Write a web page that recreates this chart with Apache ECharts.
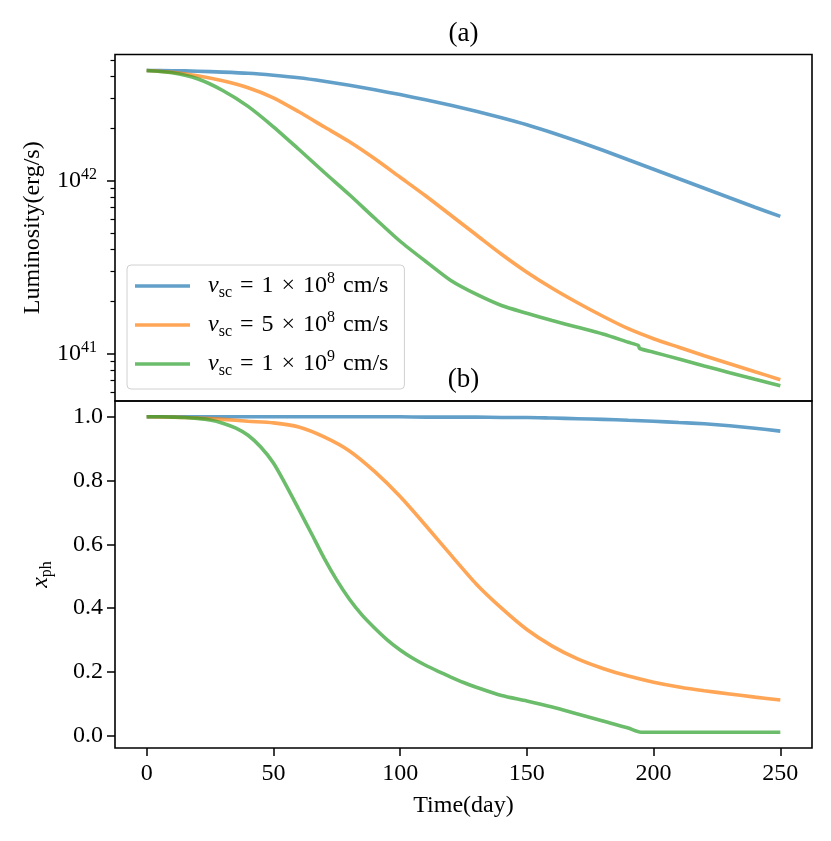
<!DOCTYPE html>
<html><head><meta charset="utf-8">
<script src="https://cdn.jsdelivr.net/npm/echarts@6/dist/echarts.min.js"></script>
<style>html,body{margin:0;padding:0;background:#fff}#c{width:831px;height:841px}</style>
</head><body><div id="c"></div>
<script>
// ---- Data ----
const seriesNames = ['v1e8', 'v5e8', 'v1e9'];
const legendCoef = ['1', '5', '1'];
const legendExp = ['8', '8', '9'];
const colors = ['#1f77b4', '#ff7f0e', '#2ca02c'];

const lumDays = [0,10,20,30,40,50,60,70,80,90,100,110,120,130,140,150,160,170,180,190,200,210,220,230,240,250];
const lumBlue = [4.341e42,4.329e42,4.300e42,4.249e42,4.182e42,4.072e42,3.939e42,3.760e42,3.565e42,3.357e42,3.150e42,2.939e42,2.732e42,2.522e42,2.313e42,2.107e42,1.894e42,1.692e42,1.501e42,1.322e42,1.166e42,1.027e42,0.905e42,0.797e42,0.703e42,0.622e42];
const lumOrange = [4.341e42,4.238e42,4.045e42,3.784e42,3.448e42,3.018e42,2.505e42,2.051e42,1.680e42,1.340e42,1.048e42,0.819e42,0.632e42,0.4875e42,0.376e42,0.296e42,0.2391e42,0.1971e42,0.1647e42,0.1395e42,0.1221e42,0.1090e42,0.0974e42,0.0876e42,0.0787e42,0.0708e42];
const lumGreenDays = [0,10,20,30,40,50,60,70,80,90,100,110,120,130,140,150,160,170,180,190,194,194.5,200,210,220,230,240,250];
const lumGreen = [4.341e42,4.210e42,3.887e42,3.327e42,2.692e42,2.051e42,1.521e42,1.120e42,0.830e42,0.607e42,0.447e42,0.3425e42,0.265e42,0.2208e42,0.1900e42,0.1714e42,0.1555e42,0.1423e42,0.1300e42,0.1165e42,0.1115e42,0.1072e42,0.1020e42,0.0932e42,0.0850e42,0.0777e42,0.0712e42,0.0653e42];

const xphDays = [0,10,20,30,40,50,60,70,80,90,100,110,120,130,140,150,160,170,180,190,200,210,220,230,240,250];
const xphBlue = [1.0,1.0,1.0,1.0,1.0,1.0,1.0,1.0,1.0,1.0,1.0,0.999,0.999,0.999,0.998,0.998,0.996,0.994,0.992,0.989,0.986,0.982,0.978,0.972,0.964,0.955];
const xphOrange = [1.0,0.999,0.996,0.992,0.986,0.981,0.968,0.937,0.893,0.828,0.750,0.660,0.567,0.476,0.400,0.333,0.281,0.241,0.211,0.187,0.168,0.153,0.141,0.131,0.121,0.112];
const xphGreenDays = [0,5,10,15,20,25,30,35,40,45,50,55,60,65,70,75,80,85,90,95,100,105,110,115,120,125,130,140,150,160,170,180,190,195,200,210,220,230,240,250];
const xphGreen = [1.0,1.0,0.999,0.998,0.995,0.990,0.980,0.965,0.942,0.905,0.855,0.785,0.710,0.634,0.557,0.488,0.428,0.378,0.337,0.300,0.269,0.243,0.221,0.202,0.184,0.167,0.152,0.126,0.109,0.090,0.068,0.046,0.024,0.011,0.011,0.011,0.011,0.011,0.011,0.011];

const xTicks = [0,50,100,150,200,250];
const lumMajorTicks = [1e41, 1e42];
const lumMinorTicks = [6e40,7e40,8e40,9e40,2e41,3e41,4e41,5e41,6e41,7e41,8e41,9e41,2e42,3e42,4e42,5e42];
const xphTicks = [0,0.2,0.4,0.6,0.8,1.0];
const panelTitles = ['(a)', '(b)'];

// ---- Chart ----
const FF = '"Liberation Serif", "DejaVu Serif", serif';
const zip = (xs, ys) => xs.map((x, i) => [x, ys[i]]);
const lineSeries = (name, color, data, xi, yi) => ({
  name, type: 'line', xAxisIndex: xi, yAxisIndex: yi, data,
  symbol: 'none', smooth: 0.25, clip: true,
  lineStyle: { color, width: 3.6, opacity: 0.7 },
  itemStyle: { color, opacity: 0.7 }
});

const chart = echarts.init(document.getElementById('c'), null, { renderer: 'canvas' });
const axisTickStyle = { color: '#000', width: 1.5 };
const SP = '\u2004';
chart.setOption({
  animation: false,
  backgroundColor: '#fff',
  title: [
    { text: panelTitles[0], left: 463.5, top: 20, textAlign: 'center', padding: 0,
      textStyle: { fontFamily: FF, fontSize: 27, fontWeight: 'normal', color: '#000' } },
    { text: panelTitles[1], left: 463.5, top: 366, textAlign: 'center', padding: 0,
      textStyle: { fontFamily: FF, fontSize: 27, fontWeight: 'normal', color: '#000' } }
  ],
  grid: [
    { left: 115, top: 54.5, width: 697, height: 346.5, show: true, borderColor: '#000', borderWidth: 1.6, backgroundColor: 'transparent', containLabel: false },
    { left: 115, top: 401, width: 697, height: 347, show: true, borderColor: '#000', borderWidth: 1.6, backgroundColor: 'transparent', containLabel: false }
  ],
  legend: {
    data: seriesNames,
    orient: 'vertical', left: 127, top: 265,
    padding: [6, 16, 10, 8], itemGap: 9, itemWidth: 55, itemHeight: 3.6,
    icon: 'rect',
    borderColor: '#d0d0d0', borderWidth: 1, borderRadius: 4,
    backgroundColor: 'rgba(255,255,255,0.8)',
    formatter: (name) => {
      const i = seriesNames.indexOf(name);
      return `{i|v}{sub|sc}{t|${SP}=${SP}${legendCoef[i]}${SP}×${SP}10}{sup|${legendExp[i]}}{t|${SP}cm/s}`;
    },
    textStyle: {
      fontFamily: FF, fontSize: 24, color: '#000', lineHeight: 30,
      rich: {
        i: { fontFamily: FF, fontSize: 24, fontStyle: 'italic', color: '#000', padding: [0, 0, 0, 13], lineHeight: 30 },
        t: { fontFamily: FF, fontSize: 24, color: '#000', lineHeight: 30 },
        sub: { fontFamily: FF, fontSize: 16, color: '#000', verticalAlign: 'bottom', lineHeight: 18 },
        sup: { fontFamily: FF, fontSize: 16, color: '#000', verticalAlign: 'top', lineHeight: 16 }
      }
    }
  },
  xAxis: [
    { gridIndex: 0, type: 'value', min: -12.5, max: 262.5,
      axisLine: { show: false, onZero: false }, axisTick: { show: false }, axisLabel: { show: false }, splitLine: { show: false } },
    { gridIndex: 1, type: 'value', min: -12.5, max: 262.5,
      axisLine: { show: false, onZero: false },
      axisTick: { show: true, length: 8, lineStyle: axisTickStyle, customValues: xTicks },
      axisLabel: { customValues: xTicks, margin: 14, fontFamily: FF, fontSize: 24, color: '#000' },
      splitLine: { show: false },
      name: 'Time(day)', nameLocation: 'middle', nameGap: 46,
      nameTextStyle: { fontFamily: FF, fontSize: 24, color: '#000' } }
  ],
  yAxis: [
    { gridIndex: 0, type: 'log', logBase: 10, min: 5.33e40, max: 5.37e42,
      axisLine: { show: false, onZero: false },
      axisTick: { show: true, length: 8, lineStyle: axisTickStyle, customValues: lumMajorTicks },
      axisLabel: {
        customValues: lumMajorTicks, margin: 18,
        formatter: (v) => `{b|10}{e|${Math.round(Math.log10(v))}}`,
        rich: {
          b: { fontFamily: FF, fontSize: 24, color: '#000', lineHeight: 28 },
          e: { fontFamily: FF, fontSize: 16, color: '#000', verticalAlign: 'top', lineHeight: 16 }
        }
      },
      splitLine: { show: false }, minorTick: { show: false },
      name: 'Luminosity(erg/s)', nameLocation: 'middle', nameGap: 70,
      nameTextStyle: { fontFamily: FF, fontSize: 24, color: '#000' } },
    { gridIndex: 0, type: 'log', logBase: 10, min: 5.33e40, max: 5.37e42, position: 'left',
      axisLine: { show: false, onZero: false },
      axisTick: { show: true, length: 4.5, lineStyle: { color: '#000', width: 1.2 }, customValues: lumMinorTicks },
      axisLabel: { show: false }, splitLine: { show: false } },
    { gridIndex: 1, type: 'value', min: -0.0385, max: 1.0495,
      axisLine: { show: false, onZero: false },
      axisTick: { show: true, length: 8, lineStyle: axisTickStyle, customValues: xphTicks },
      axisLabel: { customValues: xphTicks, margin: 12, fontFamily: FF, fontSize: 24, color: '#000',
        formatter: (v) => v.toFixed(1) },
      splitLine: { show: false },
      name: '{i|x}{s|ph}', nameLocation: 'middle', nameGap: 60,
      nameTextStyle: { fontFamily: FF, fontSize: 24, color: '#000',
        rich: {
          i: { fontFamily: FF, fontSize: 24, fontStyle: 'italic', color: '#000', lineHeight: 28 },
          s: { fontFamily: FF, fontSize: 16, color: '#000', verticalAlign: 'bottom', lineHeight: 16 }
        } } }
  ],
  series: [
    lineSeries(seriesNames[0], colors[0], zip(lumDays, lumBlue), 0, 0),
    lineSeries(seriesNames[1], colors[1], zip(lumDays, lumOrange), 0, 0),
    lineSeries(seriesNames[2], colors[2], zip(lumGreenDays, lumGreen), 0, 0),
    lineSeries(seriesNames[0], colors[0], zip(xphDays, xphBlue), 1, 2),
    lineSeries(seriesNames[1], colors[1], zip(xphDays, xphOrange), 1, 2),
    lineSeries(seriesNames[2], colors[2], zip(xphGreenDays, xphGreen), 1, 2)
  ]
});
</script>
</body></html>
